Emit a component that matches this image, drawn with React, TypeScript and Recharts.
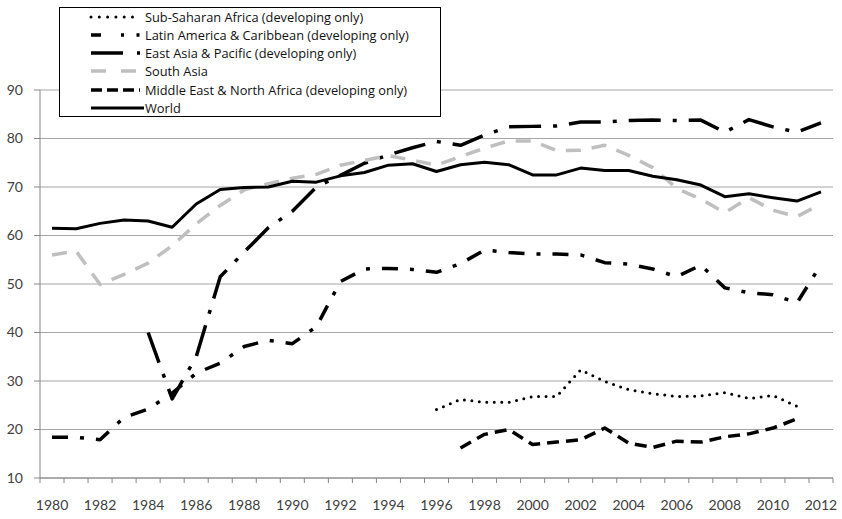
import { CartesianGrid, Line, LineChart, XAxis, YAxis } from "recharts"

const years = [
  1980, 1981, 1982, 1983, 1984, 1985, 1986, 1987, 1988, 1989, 1990, 1991, 1992, 1993, 1994, 1995, 1996,
  1997, 1998, 1999, 2000, 2001, 2002, 2003, 2004, 2005, 2006, 2007, 2008, 2009, 2010, 2011, 2012,
]

const world = [
  61.5, 61.4, 62.5, 63.2, 63.0, 61.7, 66.5, 69.5, 69.9, 70.0, 71.2, 71.0, 72.3, 73.0, 74.5, 74.8, 73.2,
  74.6, 75.1, 74.6, 72.5, 72.5, 73.9, 73.4, 73.4, 72.2, 71.5, 70.4, 68.0, 68.6, 67.8, 67.1, 69.0,
]

const southAsia = [
  56.0, 56.8, 49.9, 52.0, 54.3, 57.9, 62.4, 66.2, 69.4, 70.7, 71.8, 72.6, 74.5, 75.5, 76.5, 75.5, 74.5,
  76.3, 78.0, 79.5, 79.5, 77.5, 77.6, 78.6, 76.5, 74.0, 69.7, 67.5, 64.7, 67.8, 65.2, 63.9, 66.5,
]

const eastAsia = [
  null, null, null, null, 40.0, 26.3, 35.0, 51.5, 56.6, 61.6, 65.0, 70.0, 72.4, 74.9, 76.6, 78.1, 79.4,
  78.6, 80.7, 82.4, 82.5, 82.6, 83.4, 83.4, 83.7, 83.8, 83.7, 83.8, 81.3, 83.9, 82.4, 81.3, 83.2,
]

const latinAmerica = [
  18.4, 18.4, 17.9, 22.5, 24.2, 27.5, 31.6, 33.7, 37.1, 38.4, 37.7, 41.2, 50.5, 53.1, 53.2, 53.0, 52.4,
  54.2, 57.0, 56.5, 56.2, 56.2, 56.0, 54.4, 54.1, 53.1, 51.5, 53.9, 49.2, 48.2, 47.8, 46.1, 54.0,
]

const subSaharan = [
  null, null, null, null, null, null, null, null, null, null, null, null, null, null, null, null, 24.1,
  26.2, 25.6, 25.6, 26.8, 26.8, 32.3, 29.9, 28.2, 27.4, 26.8, 26.9, 27.6, 26.4, 27.0, 24.8, null,
]

const middleEast = [
  null, null, null, null, null, null, null, null, null, null, null, null, null, null, null, null, null,
  16.2, 19.0, 20.0, 16.9, 17.4, 17.9, 20.3, 17.2, 16.3, 17.6, 17.4, 18.5, 19.1, 20.3, 22.2, null,
]

const yTicks = [10, 20, 30, 40, 50, 60, 70, 80, 90]
const xLabelTicks = [1980, 1982, 1984, 1986, 1988, 1990, 1992, 1994, 1996, 1998, 2000, 2002, 2004, 2006, 2008, 2010, 2012]
const xBoundaryTicks = [
  1979.5, 1980.5, 1981.5, 1982.5, 1983.5, 1984.5, 1985.5, 1986.5, 1987.5, 1988.5, 1989.5, 1990.5,
  1991.5, 1992.5, 1993.5, 1994.5, 1995.5, 1996.5, 1997.5, 1998.5, 1999.5, 2000.5, 2001.5, 2002.5,
  2003.5, 2004.5, 2005.5, 2006.5, 2007.5, 2008.5, 2009.5, 2010.5, 2011.5, 2012.5,
]
const xTicks = [...xBoundaryTicks, ...xLabelTicks].sort((a, b) => a - b)

const data = years.map((year, i) => ({
  year,
  subSaharan: subSaharan[i],
  latinAmerica: latinAmerica[i],
  eastAsia: eastAsia[i],
  southAsia: southAsia[i],
  middleEast: middleEast[i],
  world: world[i],
}))

const series = [
  { key: "subSaharan", name: "Sub-Saharan Africa (developing only)", color: "#000", width: 3, dash: "0 7.5", cap: "round", legendDash: "0 8.3" },
  { key: "latinAmerica", name: "Latin America & Caribbean (developing only)", color: "#000", width: 3.5, dash: "16 12 4 12", cap: "butt", legendDash: "10 20 3 12.5 3 20" },
  { key: "eastAsia", name: "East Asia & Pacific (developing only)", color: "#000", width: 3.5, dash: "32 12 4 12", cap: "butt", legendDash: "32 14 3 20" },
  { key: "southAsia", name: "South Asia", color: "#bfbfbf", width: 3.5, dash: "15 11", cap: "butt", legendDash: "15 15" },
  { key: "middleEast", name: "Middle East & North Africa (developing only)", color: "#000", width: 3.5, dash: "12 7", cap: "butt", legendDash: "11 5" },
  { key: "world", name: "World", color: "#000", width: 3, dash: undefined, cap: "butt", legendDash: undefined },
]

const axisColor = "#868686"
const tickStyle = { fontFamily: "Lato", fontSize: 14, fill: "#404040" }

// half-year ticks draw the category marks, whole years draw the labels
function YearTick(props: any) {
  const { x, y, payload } = props
  if (payload.value % 1 !== 0) {
    return <line x1={x} x2={x} y1={y} y2={y + 5} stroke={axisColor} />
  }
  return (
    <text x={x} y={y + 22} dy="0.71em" textAnchor="middle" {...tickStyle}>
      {payload.value}
    </text>
  )
}

function ChartLegend() {
  return (
    <div
      style={{
        position: "absolute",
        left: 59,
        top: 7,
        width: 380,
        height: 108,
        border: "1px solid #000",
        background: "#fff",
        fontFamily: "Open Sans",
        fontSize: 12.8,
        color: "#111",
      }}
    >
      {series.map((s, i) => (
        <div
          key={s.key}
          style={{ position: "absolute", left: 0, top: 0.5 + i * 18.3, height: 16, display: "flex", alignItems: "center" }}
        >
          <svg width={85} height={16} style={{ display: "block" }}>
            <line
              x1={31}
              x2={s.key === "world" ? 84 : 80}
              y1={8}
              y2={8}
              stroke={s.color}
              strokeWidth={s.width}
              strokeDasharray={s.legendDash}
              strokeLinecap={s.cap as "round" | "butt"}
            />
          </svg>
          <span style={{ whiteSpace: "nowrap" }}>{s.name}</span>
        </div>
      ))}
    </div>
  )
}

export default function App() {
  return (
    <div style={{ position: "absolute", left: 0, top: 0, width: 842, height: 519, background: "#fff" }}>
      <LineChart width={842} height={519} data={data} margin={{ top: 90, right: 9, left: 0, bottom: 11 }}>
        <CartesianGrid vertical={false} stroke="#a6a6a6" />
        <XAxis
          dataKey="year"
          type="number"
          domain={[1979.5, 2012.5]}
          ticks={xTicks}
          interval={0}
          height={30}
          tick={YearTick}
          tickSize={0}
          tickMargin={0}
          tickLine={false}
          axisLine={{ stroke: axisColor }}
        />
        <YAxis
          domain={[10, 90]}
          ticks={yTicks}
          interval={0}
          width={40}
          tick={tickStyle}
          tickSize={6}
          tickMargin={11}
          tickLine={{ stroke: axisColor }}
          axisLine={{ stroke: axisColor }}
        />
        {series.map((s) => (
          <Line
            key={s.key}
            dataKey={s.key}
            name={s.name}
            type="linear"
            stroke={s.color}
            strokeWidth={s.width}
            strokeDasharray={s.dash}
            strokeLinecap={s.cap as "round" | "butt"}
            strokeLinejoin="round"
            dot={false}
            activeDot={false}
            connectNulls={false}
            isAnimationActive={false}
          />
        ))}
      </LineChart>
      <ChartLegend />
    </div>
  )
}
